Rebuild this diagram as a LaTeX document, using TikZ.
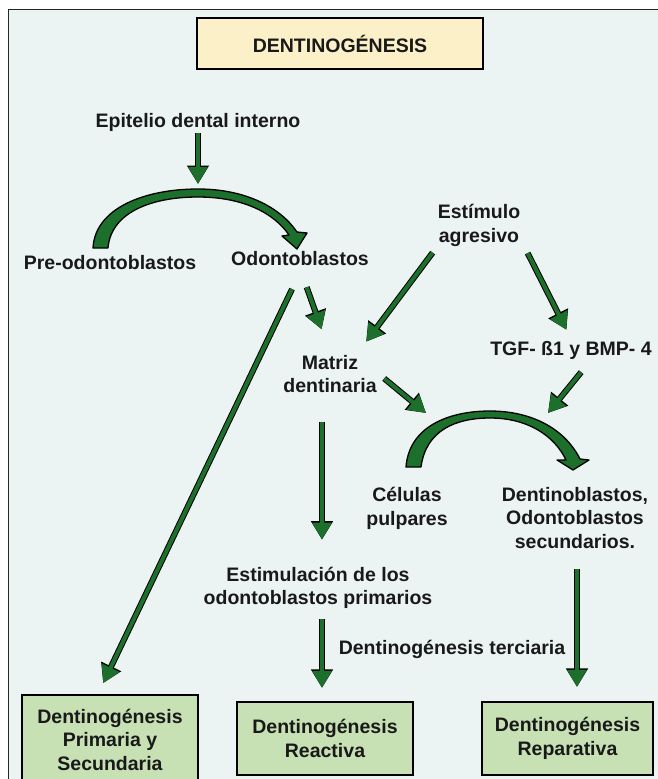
\documentclass[tikz,border=0pt]{standalone}
\usepackage{fontspec}
\setmainfont{Liberation Sans}
\usetikzlibrary{arrows.meta}

\definecolor{bgblue}{RGB}{236,244,243}
\definecolor{titleyellow}{RGB}{252,240,200}
\definecolor{boxgreen}{RGB}{199,225,181}
\definecolor{arrgreen}{RGB}{28,112,44}
\definecolor{txtblack}{RGB}{25,25,25}

\tikzset{
  txt/.style={align=center, inner sep=2pt, text=txtblack,
    font=\fontsize{19.5}{23.5}\selectfont\bfseries},
  endbox/.style={txt, draw=black, line width=2.2pt, fill=boxgreen,
    minimum width=176pt, minimum height=73pt},
  titlebox/.style={txt, draw=black, line width=2.2pt, fill=titleyellow,
    minimum width=286pt, minimum height=51pt},
  arr/.style={line width=4pt, draw=arrgreen,
    -{Triangle[length=17pt,width=18.5pt]},
    preaction={draw=black, line width=6pt, -{Triangle[length=18.5pt,width=21pt]}}},
  blockarc/.style={fill=arrgreen, draw=black, line width=1.3pt, line join=round}
}

\begin{document}
\begin{tikzpicture}[x=1pt,y=-1pt]
\useasboundingbox (0,0) rectangle (658,779);
\fill[white] (0,0) rectangle (658,779);
\clip (0,0) rectangle (658,779);
\draw[line width=1.6pt, draw=black!85, fill=bgblue] (8.5,9.5) rectangle (700,820);

% texts
\node[titlebox] (title) at (340,43.5) {DENTINOGÉNESIS};
\node[txt] (epi) at (198,122) {Epitelio dental interno};
\node[txt] (pre) at (110,263) {Pre-odontoblastos};
\node[txt] (odo) at (300,259) {Odontoblastos};
\node[txt] (est) at (479,225.5) {Estímulo\\agresivo};
\node[txt] (mat) at (330,374) {Matriz\\dentinaria};
\node[txt] (tgf) at (571,350) {TGF- ß1 y BMP- 4};
\node[txt] (cel) at (407,508.5) {Células\\pulpares};
\node[txt] (dbl) at (575,518) {Dentinoblastos,\\Odontoblastos\\secundarios.};
\node[txt] (esti) at (318,587.75) {Estimulación de los\\odontoblastos primarios};
\node[txt] (ter) at (452,649) {Dentinogénesis terciaria};

% final boxes
\node[endbox, minimum height=89pt] (prim) at (110,739.5) {Dentinogénesis\\Primaria y\\Secundaria};
\node[endbox] (reac) at (325,738.5) {Dentinogénesis\\Reactiva};
\node[endbox, minimum width=171pt] (repa) at (567.5,738.5) {Dentinogénesis\\Reparativa};

% tops of the curved arrows
\coordinate (arcA) at (198,184);
\coordinate (arcBl) at (426,413);
\coordinate (arcBr) at (548,413);

% curved arrows
\path[blockarc] (93,248) .. controls (95,208) and (145,189) .. (198,189)
  .. controls (245,189) and (280,207) .. (297,232) -- (307,233) -- (297,249)
  -- (282,236) -- (289,235) .. controls (274,213) and (243,197) .. (198,197)
  .. controls (152,197) and (111,212) .. (108,248) -- cycle;
\path[blockarc] (406,467) .. controls (409,427) and (448,411) .. (490,411)
  .. controls (532,411) and (565,429) .. (580,459) -- (589,460) -- (573,470)
  -- (557,460) -- (566,460) .. controls (554,435) and (527,418) .. (490,418)
  .. controls (456,418) and (426,430) .. (421,467) -- cycle;

% straight arrows
\draw[arr] (epi) -- (arcA);
\draw[arr, shorten <=20pt, shorten >=25pt] (odo.south) -- (mat.north);
\draw[arr, shorten <=5pt, shorten >=14pt] (est.south west) -- ([xshift=-21pt]mat.north east);
\draw[arr, shorten <=5pt, shorten >=10pt] ([xshift=3pt]est.south east) -- (tgf.north);
\draw[arr, shorten <=23pt, shorten >=12pt] ([xshift=2pt]odo.south) -- ([xshift=-12pt]prim.north);
\draw[arr, shorten <=7pt] (mat.east) -- (arcBl);
\draw[arr, shorten <=14pt] ([xshift=19pt]tgf.south) -- (arcBr);
\draw[arr, shorten <=27pt, shorten >=25pt] ([xshift=-8pt]mat.south) -- ([xshift=4pt]esti.north);
\draw[arr, shorten <=8pt, shorten >=13pt] ([xshift=4pt]esti.south) -- ([xshift=-3pt]reac.north);
\draw[arr, shorten <=18pt, shorten >=14pt] ([xshift=2pt]dbl.south) -- ([xshift=9.5pt]repa.north);
\end{tikzpicture}
\end{document}
